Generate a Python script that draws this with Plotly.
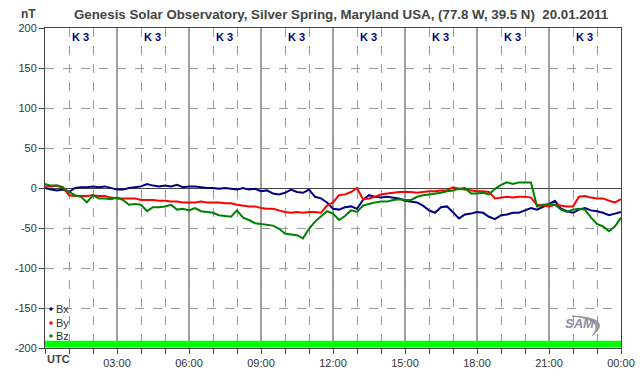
import plotly.graph_objects as go

# ---- data ----
hours = [i * 0.25 for i in range(97)]

bx = [0, -2, -3, -2, -5, 0, 1, 1, 2, 1, 2, 0,
      -2, -2, 0, 1, 2, 5, 3, 2, 3, 2, 4, 1,
      2, 2, 1, 0, 0, -1, 0, -1, -2, 0, -2, -1,
      -4, -3, -7, -8, -6, -2, -5, -6, -2, -11, -13, -18,
      -26, -27, -24, -23, -26, -15, -9, -11, -12, -11, -12, -13,
      -16, -17, -18, -22, -28, -31, -24, -23, -30, -38, -33, -32,
      -30, -31, -36, -39, -34, -33, -31, -31, -28, -25, -27, -24,
      -20, -16, -26, -29, -31, -27, -25, -28, -29, -31, -34, -32,
      -30]

by = [2, 2, 3, 1, -9, -10, -10, -10, -9, -10, -10, -12,
      -13, -13, -13, -13, -15, -15, -15, -16, -16, -17, -17, -18,
      -18, -18, -17, -18, -18, -18, -19, -19, -21, -22, -23, -23,
      -25, -26, -26, -28, -30, -31, -30, -31, -30, -30, -31, -22,
      -18, -9, -8, -5, 0, -14, -13, -11, -8, -7, -6, -5,
      -5, -5, -6, -5, -4, -4, -3, -3, 1, -1, -2, -3,
      -4, -4, -5, -13, -12, -11, -12, -11, -11, -12, -21, -22,
      -23, -21, -22, -23, -23, -11, -10, -12, -13, -13, -16, -18,
      -14]

bz = [5, 3, 3, 0, -5, -9, -11, -18, -9, -13, -13, -14,
      -12, -15, -21, -20, -21, -29, -24, -24, -23, -21, -27, -26,
      -28, -25, -29, -30, -31, -34, -35, -36, -28, -37, -40, -44,
      -45, -46, -47, -51, -57, -58, -59, -63, -51, -42, -35, -29,
      -32, -40, -35, -28, -30, -22, -20, -18, -17, -17, -15, -14,
      -15, -15, -11, -9, -8, -7, -6, -4, -3, -1, 0, -7,
      -7, -6, -8, -1, 4, 7, 5, 7, 7, 7, -23, -21,
      -20, -21, -27, -30, -27, -26, -27, -37, -45, -48, -54, -48,
      -37]

series_names = ["Bx", "By", "Bz"]
series_colors = ["#000080", "#FF0000", "#008000"]

tick_hours = list(range(25))
tick_labels = ["" if (h % 3 or h == 0) else ("00:00" if h == 24 else f"{h:02d}:00") for h in tick_hours]
y_ticks = list(range(-200, 201, 50))
k_index = [3, 3, 3, 3, 3, 3, 3, 3]

FONT = "Arial, Liberation Sans, sans-serif"

fig = go.Figure()
for name, vals, col in zip(series_names, [bx, by, bz], series_colors):
    fig.add_trace(go.Scatter(x=hours, y=vals, mode="lines", name=name,
                             line=dict(color=col, width=2), showlegend=False,
                             hoverinfo="skip"))


def px_to_paper(px, py):
    return (px - 45) / 576.0, (348 - py) / 320.0


shapes = []
# solid 3-hour lines
for h in range(3, 24, 3):
    shapes.append(dict(type="line", xref="x", yref="paper", x0=h, x1=h, y0=0, y1=1,
                       line=dict(color="#444444", width=1), layer="between"))
# green band at the bottom
shapes.append(dict(type="rect", xref="paper", yref="y", x0=0, x1=1, y0=-199.5, y1=-191,
                   fillcolor="#00FF00", line=dict(width=0), layer="between"))

annotations = []
# legend markers and labels
legend_y = [309, 323, 336]
for name, col, py in zip(series_names, series_colors, legend_y):
    mx, my = px_to_paper(51, py)
    dx, dy = 1.6 / 576.0, 1.6 / 320.0
    shapes.append(dict(type="path", xref="paper", yref="paper",
                       path=f"M {mx - dx},{my} L {mx},{my + dy} L {mx + dx},{my} L {mx},{my - dy} Z",
                       fillcolor=col, line=dict(color=col, width=1), layer="above"))
    tx, ty = px_to_paper(54, py)
    annotations.append(dict(x=tx, y=ty, xref="paper", yref="paper", text=name,
                            showarrow=False, xanchor="left", yanchor="middle",
                            font=dict(family=FONT, size=11, color="#333333")))

# K index labels
for i, k in enumerate(k_index):
    kx = 1.47 + 3 * i
    annotations.append(dict(x=kx, y=(348 - 37) / 320.0, xref="x", yref="paper",
                            text=f"<b>K {k}</b>", showarrow=False,
                            xanchor="center", yanchor="middle",
                            font=dict(family=FONT, size=11, color="#000080")))

# title and unit
annotations.append(dict(x=(341 - 45) / 576.0, y=(348 - 14) / 320.0, xref="paper", yref="paper",
                        text="<b>Genesis Solar Observatory, Silver Spring, Maryland USA, (77.8 W, 39.5 N)  20.01.2011</b>",
                        showarrow=False, xanchor="center", yanchor="middle",
                        font=dict(family=FONT, size=13.3, color="#444444")))
annotations.append(dict(x=(28 - 45) / 576.0, y=(348 - 14) / 320.0, xref="paper", yref="paper",
                        text="<b>nT</b>", showarrow=False, xanchor="center", yanchor="middle",
                        font=dict(family=FONT, size=12, color="#444444")))
# UTC label
annotations.append(dict(x=0, y=(348 - 359) / 320.0, xref="paper", yref="paper",
                        text="<b>UTC</b>", showarrow=False, xanchor="left", yanchor="middle",
                        font=dict(family=FONT, size=11, color="#444444")))
# SAM logo text
lx, ly = px_to_paper(580, 323)
annotations.append(dict(x=lx, y=ly, xref="paper", yref="paper",
                        text="<i><b>SAM</b></i>", showarrow=False, xanchor="center", yanchor="middle",
                        font=dict(family=FONT, size=13, color="#8a8fa8")))
# swoosh of the logo
p1 = px_to_paper(572, 316)
p2 = px_to_paper(614, 318)
p3 = px_to_paper(592, 336)
p4 = px_to_paper(606, 320)
path = (f"M {p1[0]},{p1[1]} Q {p2[0]},{p2[1]} {p3[0]},{p3[1]} "
        f"Q {p4[0]},{p4[1]} {p1[0]},{p1[1]} Z")
shapes.append(dict(type="path", xref="paper", yref="paper", path=path,
                   fillcolor="#9a9a9a", line=dict(color="#9a9a9a", width=1), layer="above"))

fig.update_layout(
    width=642, height=376,
    margin=dict(l=45, r=21, t=28, b=28, autoexpand=False),
    paper_bgcolor="white", plot_bgcolor="white",
    shapes=shapes, annotations=annotations,
    xaxis=dict(range=[0, 24], tickvals=tick_hours, ticktext=tick_labels, automargin=False,
               ticks="outside", ticklen=5, tickcolor="#444444",
               showgrid=True, gridcolor="#9a9a9a", griddash="dash", gridwidth=1,
               showline=True, linecolor="#444444", linewidth=1, mirror=True,
               zeroline=False, tickfont=dict(family=FONT, size=11, color="#333333")),
    yaxis=dict(range=[-200, 200], tickvals=y_ticks, ticktext=[str(v) for v in y_ticks],
               automargin=False,
               ticks="outside", ticklen=5, tickcolor="#444444",
               showgrid=True, gridcolor="#9a9a9a", griddash="dash", gridwidth=1,
               zeroline=True, zerolinecolor="#444444", zerolinewidth=1,
               showline=True, linecolor="#444444", linewidth=1, mirror=True,
               tickfont=dict(family=FONT, size=11, color="#333333")),
)

fig.write_html("out.html", config={"displayModeBar": False},
               post_script="document.body.style.margin='0';document.body.style.overflow='hidden';")
